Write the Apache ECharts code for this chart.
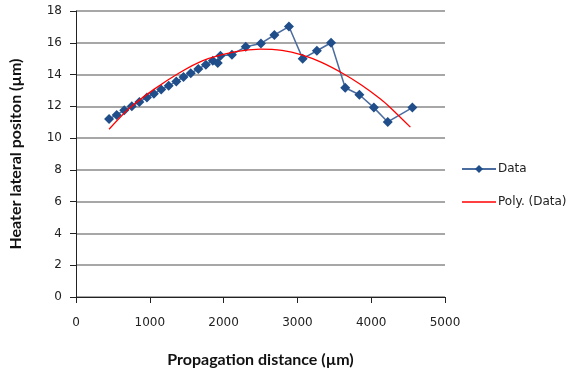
<!DOCTYPE html>
<html>
<head>
<meta charset="utf-8">
<script src="https://cdn.jsdelivr.net/npm/echarts@6/dist/echarts.min.js"></script>
<style>html,body{margin:0;padding:0;background:#fff}#c{width:570px;height:373px}</style>
</head>
<body>
<div id="c"></div>
<script>
var dataX = [448, 551, 654, 756, 859, 961, 1055, 1154, 1256, 1359, 1457, 1555, 1657, 1760, 1854, 1921, 1957, 2113, 2300, 2506, 2688, 2885, 3072, 3264, 3456, 3648, 3840, 4036, 4224, 4558];
var dataY = [11.21, 11.46, 11.76, 12.01, 12.28, 12.56, 12.79, 13.06, 13.29, 13.57, 13.84, 14.09, 14.35, 14.62, 14.87, 14.72, 15.19, 15.25, 15.75, 15.96, 16.49, 17.02, 15.0, 15.5, 16.0, 13.17, 12.73, 11.92, 11.02, 11.92];
var polyX = [448, 716, 1051, 1386, 1720, 2166, 2500, 2791, 3059, 3327, 3617, 3862, 4130, 4264, 4531];
var polyY = [10.56, 11.85, 13.05, 14.07, 14.88, 15.44, 15.6, 15.52, 15.24, 14.77, 14.07, 13.36, 12.45, 11.9, 10.69];
var xTicks = [0, 1000, 2000, 3000, 4000, 5000];
var yTicks = [0, 2, 4, 6, 8, 10, 12, 14, 16, 18];

function pairs(xs, ys) { return xs.map(function (x, i) { return [x, ys[i]]; }); }

var chart = echarts.init(document.getElementById('c'), null, { renderer: 'canvas' });
var tickFont = { fontFamily: 'DejaVu Sans', fontSize: 12, color: '#222' };
chart.setOption({
  animation: false,
  backgroundColor: '#fff',
  grid: { left: 71, right: 125, top: 11, bottom: 76, containLabel: false },
  legend: {
    orient: 'vertical', left: 456, top: 158, itemGap: 21, itemWidth: 34, itemHeight: 10,
    textStyle: { fontFamily: 'DejaVu Sans', fontSize: 12, color: '#222', padding: [0, 0, 0, -3] },
    data: [
      { name: 'Data' },
      { name: 'Poly. (Data)', icon: 'path://M0,0 L34,0 L34,1.4 L0,1.4 Z', itemStyle: { color: '#ff0000' } }
    ]
  },
  xAxis: {
    type: 'value', min: xTicks[0], max: xTicks[xTicks.length - 1], interval: 1000,
    name: 'Propagation distance (µm)', nameLocation: 'middle', nameGap: 55,
    nameTextStyle: { fontFamily: 'Lato', fontWeight: 'bold', fontSize: 16, color: '#111' },
    axisLine: { lineStyle: { color: '#222', width: 1 } },
    axisTick: { show: true, length: 6, inside: false, lineStyle: { color: '#222' } },
    axisLabel: Object.assign({ margin: 20, formatter: function (v) { return String(v); } }, tickFont),
    splitLine: { show: false }
  },
  yAxis: {
    type: 'value', min: yTicks[0], max: yTicks[yTicks.length - 1], interval: 2,
    name: 'Heater lateral positon (µm)', nameLocation: 'middle', nameGap: 52,
    nameTextStyle: { fontFamily: 'Lato', fontWeight: 'bold', fontSize: 16, color: '#111' },
    axisLine: { show: true, lineStyle: { color: '#222', width: 1 } },
    axisTick: { show: true, length: 6, inside: false, lineStyle: { color: '#222' } },
    axisLabel: Object.assign({ margin: 14 }, tickFont),
    splitLine: { show: true, lineStyle: { color: '#8a8a8a', width: 1.5 } }
  },
  series: [
    {
      name: 'Data', type: 'line', data: pairs(dataX, dataY),
      symbol: 'diamond', symbolSize: 10, showSymbol: true,
      lineStyle: { color: '#4a6c9f', width: 1.5 },
      itemStyle: { color: '#1f4e8a' },
      z: 3
    },
    {
      name: 'Poly. (Data)', type: 'line', data: pairs(polyX, polyY),
      smooth: 0.3, symbol: 'none', showSymbol: false,
      lineStyle: { color: '#ff0000', width: 1.3 },
      itemStyle: { color: '#ff0000' },
      z: 4
    }
  ]
});
</script>
</body>
</html>
